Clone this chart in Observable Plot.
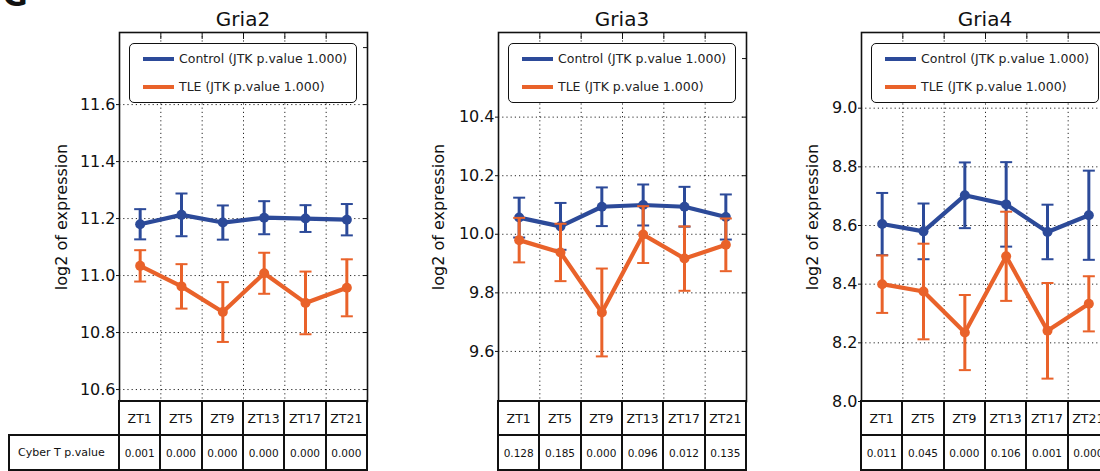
<!DOCTYPE html>
<html>
<head>
<meta charset="utf-8">
<script src="https://cdn.jsdelivr.net/npm/d3@7"></script>
<script src="https://cdn.jsdelivr.net/npm/@observablehq/plot@0.6"></script>
<style>
  html, body { margin: 0; padding: 0; background: #fff; }
  body { width: 1100px; height: 471px; overflow: hidden; position: relative; font-family: "DejaVu Sans", sans-serif; color: #111; }
  .abs { position: absolute; }
  .title { font-size: 20px; line-height: 20px; text-align: center; white-space: nowrap; }
  .legend { border: 1.6px solid #111; border-radius: 5px; background: #fff; box-sizing: border-box; }
  .legend .sw { position: absolute; left: 13px; width: 31px; height: 4px; }
  .legend .lt { position: absolute; left: 49px; font-size: 12.5px; line-height: 14px; white-space: nowrap; color: #222; }
  .cell { position: absolute; box-sizing: border-box; border: 2px solid #111; display: flex; align-items: center; justify-content: center; white-space: nowrap; background: #fff; overflow: hidden; }
  .zt { font-size: 12.5px; }
  .pv { font-size: 10.5px; }
  .lab { font-size: 11px; justify-content: flex-start; padding-left: 8px; }
  svg { overflow: visible; }
</style>
</head>
<body>
<div class="abs" style="left:3px; top:-19px; font-size:30px; font-weight:bold; line-height:30px;">G</div>
<script>
// ---------- data ----------
const timepoints = ["ZT1", "ZT5", "ZT9", "ZT13", "ZT17", "ZT21"];
const genes = ["Gria2", "Gria3", "Gria4"];
const seriesNames = ["Control (JTK p.value 1.000)", "TLE (JTK p.value 1.000)"];

const gria2Control    = [11.180, 11.213, 11.186, 11.203, 11.200, 11.196];
const gria2ControlErr = [0.053, 0.075, 0.060, 0.058, 0.047, 0.055];
const gria2TLE        = [11.034, 10.962, 10.872, 11.008, 10.904, 10.957];
const gria2TLEErr     = [0.055, 0.078, 0.105, 0.072, 0.110, 0.100];
const gria2PValues    = ["0.001", "0.000", "0.000", "0.000", "0.000", "0.000"];

const gria3Control    = [10.057, 10.027, 10.094, 10.100, 10.094, 10.059];
const gria3ControlErr = [0.068, 0.080, 0.066, 0.070, 0.068, 0.077];
const gria3TLE        = [9.980, 9.938, 9.733, 9.999, 9.917, 9.964];
const gria3TLEErr     = [0.076, 0.098, 0.150, 0.097, 0.110, 0.090];
const gria3PValues    = ["0.128", "0.185", "0.000", "0.096", "0.012", "0.135"];

const gria4Control    = [8.605, 8.580, 8.703, 8.672, 8.578, 8.635];
const gria4ControlErr = [0.106, 0.095, 0.112, 0.144, 0.093, 0.152];
const gria4TLE        = [8.400, 8.375, 8.235, 8.495, 8.241, 8.333];
const gria4TLEErr     = [0.098, 0.163, 0.128, 0.152, 0.163, 0.094];
const gria4PValues    = ["0.011", "0.045", "0.000", "0.106", "0.001", "0.000"];

const gria2YDomain = [10.558, 11.853];
const gria3YDomain = [9.429, 10.689];
const gria4YDomain = [8.0, 9.258];
const gria2YTicks = [10.6, 10.8, 11.0, 11.2, 11.4, 11.6];
const gria3YTicks = [9.6, 9.8, 10.0, 10.2, 10.4];
const gria4YTicks = [8.0, 8.2, 8.4, 8.6, 8.8, 9.0];
const gria2RightTicks = [10.6, 10.8, 11.0, 11.2, 11.4, 11.6, 11.8];
const gria3RightTicks = [9.6, 9.8, 10.0, 10.2, 10.4, 10.6];
const gria4RightTicks = [8.0, 8.2, 8.4, 8.6, 8.8, 9.0, 9.2];
const pValueLabel = "Cyber T p.value";

// ---------- styling / layout ----------
const BLUE = "#2c4a99";
const ORANGE = "#e9622a";
const FRAME_TOP = 32, FRAME_BOTTOM = 401, FRAME_W = 248;
const MARGIN_LEFT = 79;

const capSymbol = {
  draw(context, size) {
    const r = Math.sqrt(size / Math.PI);
    context.moveTo(-r, 0);
    context.lineTo(r, 0);
  }
};

function seriesRows(vals, errs) {
  return timepoints.map((t, i) => ({t, x: i + 0.5, y: vals[i], lo: vals[i] - errs[i], hi: vals[i] + errs[i]}));
}

function seriesMarks(rows, color) {
  return [
    Plot.ruleX(rows, {x: "x", y1: "lo", y2: "hi", stroke: color, strokeWidth: 3}),
    Plot.dot(rows, {x: "x", y: "hi", symbol: capSymbol, r: 6, stroke: color, strokeWidth: 2, fill: "none"}),
    Plot.dot(rows, {x: "x", y: "lo", symbol: capSymbol, r: 6, stroke: color, strokeWidth: 2, fill: "none"}),
    Plot.line(rows, {x: "x", y: "y", stroke: color, strokeWidth: 4.2}),
    Plot.dot(rows, {x: "x", y: "y", r: 5, fill: color})
  ];
}

function makePanel(cfg) {
  const {gene, frameLeft, ctrl, ctrlErr, tle, tleErr, domain, ticks, rightTicks, labelOffset, pvalues, showLabelCell} = cfg;
  const svgLeft = frameLeft - MARGIN_LEFT;
  const bounds = d3.range(1, timepoints.length);
  const chart = Plot.plot({
    width: MARGIN_LEFT + FRAME_W + 2,
    height: FRAME_BOTTOM + 1,
    marginLeft: MARGIN_LEFT,
    marginRight: 2,
    marginTop: FRAME_TOP,
    marginBottom: 1,
    x: {domain: [0, timepoints.length]},
    y: {domain},
    style: {fontFamily: "DejaVu Sans, sans-serif", fontSize: "16px", color: "#111", background: "transparent"},
    marks: [
      Plot.gridY(ticks, {stroke: "#000", strokeOpacity: 0.85, strokeDasharray: "1.2,3", strokeWidth: 1}),
      Plot.gridX(bounds, {stroke: "#000", strokeOpacity: 0.85, strokeDasharray: "1.2,3", strokeWidth: 1}),
      Plot.axisY({ticks, tickFormat: d3.format(".1f"), tickSize: 3, tickPadding: 1,
                  label: "log2 of expression", labelAnchor: "center", labelArrow: "none", labelOffset}),
      Plot.axisY({anchor: "right", ticks: rightTicks, tickSize: -5, tickFormat: () => "", label: null}),
      Plot.axisX({anchor: "top", ticks: bounds, tickSize: -6, tickFormat: () => "", label: null}),
      ...seriesMarks(seriesRows(ctrl, ctrlErr), BLUE),
      ...seriesMarks(seriesRows(tle, tleErr), ORANGE),
      Plot.frame({stroke: "#111", strokeWidth: 1.6})
    ]
  });
  chart.style.position = "absolute";
  chart.style.left = svgLeft + "px";
  chart.style.top = "0px";
  document.body.appendChild(chart);

  // title
  const title = document.createElement("div");
  title.className = "abs title";
  title.style.left = frameLeft + "px";
  title.style.width = FRAME_W + "px";
  title.style.top = "9px";
  title.textContent = gene;
  document.body.appendChild(title);

  // legend
  const legend = document.createElement("div");
  legend.className = "abs legend";
  legend.style.left = (frameLeft + 10) + "px";
  legend.style.top = "43px";
  legend.style.width = (FRAME_W - 20) + "px";
  legend.style.height = "60px";
  [[BLUE, seriesNames[0], 13], [ORANGE, seriesNames[1], 41]].forEach(([c, txt, y]) => {
    const sw = document.createElement("div");
    sw.className = "sw"; sw.style.background = c; sw.style.top = y + "px";
    const lt = document.createElement("div");
    lt.className = "lt"; lt.style.top = (y - 5) + "px"; lt.textContent = txt;
    legend.appendChild(sw); legend.appendChild(lt);
  });
  document.body.appendChild(legend);

  // table
  const w = FRAME_W / timepoints.length;
  const addCell = (x, y, cw, ch, cls, txt) => {
    const d = document.createElement("div");
    d.className = "cell " + cls;
    d.style.left = x + "px"; d.style.top = y + "px";
    d.style.width = cw + "px"; d.style.height = ch + "px";
    d.textContent = txt;
    document.body.appendChild(d);
  };
  timepoints.forEach((t, i) => {
    addCell(frameLeft + i * w - 1, FRAME_BOTTOM - 1, w + 2, 36, "zt", t);
    addCell(frameLeft + i * w - 1, FRAME_BOTTOM + 33, w + 2, 37, "pv", pvalues[i]);
  });
  if (showLabelCell) addCell(8, FRAME_BOTTOM + 33, frameLeft - 8 + 1, 37, "lab", pValueLabel);
}

makePanel({gene: genes[0], frameLeft: 119, ctrl: gria2Control, ctrlErr: gria2ControlErr, tle: gria2TLE, tleErr: gria2TLEErr,
           domain: gria2YDomain, ticks: gria2YTicks, rightTicks: gria2RightTicks, labelOffset: 64, pvalues: gria2PValues, showLabelCell: true});
makePanel({gene: genes[1], frameLeft: 498, ctrl: gria3Control, ctrlErr: gria3ControlErr, tle: gria3TLE, tleErr: gria3TLEErr,
           domain: gria3YDomain, ticks: gria3YTicks, rightTicks: gria3RightTicks, labelOffset: 66, pvalues: gria3PValues, showLabelCell: false});
makePanel({gene: genes[2], frameLeft: 861, ctrl: gria4Control, ctrlErr: gria4ControlErr, tle: gria4TLE, tleErr: gria4TLEErr,
           domain: gria4YDomain, ticks: gria4YTicks, rightTicks: gria4RightTicks, labelOffset: 55, pvalues: gria4PValues, showLabelCell: false});
</script>
</body>
</html>
